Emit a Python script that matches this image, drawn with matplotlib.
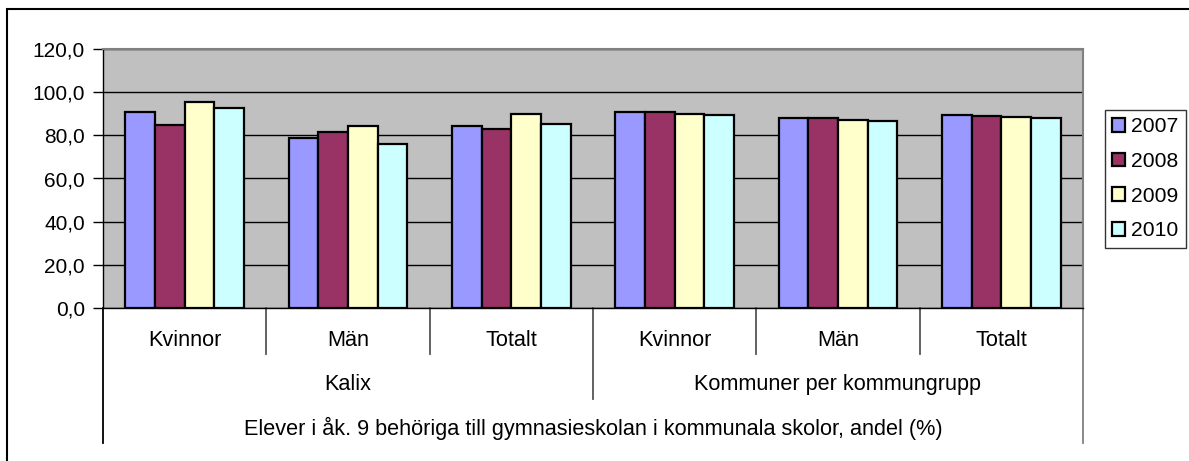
import matplotlib
matplotlib.use("Agg")
import matplotlib.pyplot as plt
from matplotlib.patches import Rectangle, Patch
from matplotlib.ticker import FuncFormatter

plt.rcParams['font.family'] = ['Liberation Sans', 'DejaVu Sans']

subcats = ["Kvinnor", "Män", "Totalt", "Kvinnor", "Män", "Totalt"]
groups = ["Kalix", "Kommuner per kommungrupp"]
title3 = "Elever i åk. 9 behöriga till gymnasieskolan i kommunala skolor, andel (%)"
years = ["2007", "2008", "2009", "2010"]
v2007 = [91.0, 78.8, 84.2, 91.0, 88.1, 89.5]
v2008 = [84.7, 81.5, 83.0, 90.6, 87.8, 89.0]
v2009 = [95.5, 84.4, 90.0, 90.1, 87.0, 88.4]
v2010 = [92.7, 76.0, 85.2, 89.5, 86.6, 87.8]
series = [v2007, v2008, v2009, v2010]
colors = ["#9999FF", "#993366", "#FFFFCC", "#CCFFFF"]

W, H = 1189, 461
fig = plt.figure(figsize=(W/100, H/100), dpi=100)
fig.patch.set_facecolor("white")

ax_l, ax_r, ax_t, ax_b = 103, 1083, 49, 308
ax = fig.add_axes([ax_l/W, (H-ax_b)/H, (ax_r-ax_l)/W, (ax_b-ax_t)/H])
ax.set_facecolor("#C0C0C0")

FS_TICK = 15
FS_CAT = 15.6
FS_LEG = 15.2
bw = 1/5.5
x = list(range(len(subcats)))
for i, (vals, c) in enumerate(zip(series, colors)):
    ax.bar([xi + (i-1.5)*bw for xi in x], vals, width=bw, color=c,
           edgecolor="black", linewidth=1.6, zorder=3, label=years[i])

ax.set_xlim(-0.5, len(subcats)-0.5)
ax.set_ylim(0, 120)
ax.set_yticks(range(0, 121, 20))
ax.yaxis.set_major_formatter(FuncFormatter(lambda v, p: f"{v:.1f}".replace(".", ",")))
ax.tick_params(axis='y', direction='out', length=7, width=1, pad=6, labelsize=FS_TICK, colors='black')
ax.set_xticks([])
ax.grid(axis='y', color='black', linewidth=1, zorder=1)
ax.set_axisbelow(True)
for s in ['top', 'right']:
    ax.spines[s].set_color('#808080')
    ax.spines[s].set_linewidth(1.5)
ax.spines['left'].set_color('black')
ax.spines['bottom'].set_color('black')
ax.spines['left'].set_linewidth(1)
ax.spines['bottom'].set_linewidth(1)

h_ax = ax_b - ax_t
def yf(ypix):
    return (ax_b - ypix) / h_ax

tr = ax.get_xaxis_transform()
lc = "#555555"
for k in range(len(subcats)+1):
    xs = k - 0.5
    if k in (0, len(subcats)):
        yend = 443
        col = "black" if k == 0 else "#808080"
    elif k == 3:
        yend = 399
        col = lc
    else:
        yend = 354
        col = lc
    ax.plot([xs, xs], [0, yf(yend)], transform=tr, color=col, lw=1.3, clip_on=False)

for xi, lab in zip(x, subcats):
    ax.text(xi, yf(340), lab, transform=tr, ha='center', va='center', fontsize=FS_CAT)
ax.text(1, yf(384), groups[0], transform=tr, ha='center', va='center', fontsize=FS_CAT)
ax.text(4, yf(384), groups[1], transform=tr, ha='center', va='center', fontsize=FS_CAT)
ax.text(2.5, yf(428), title3, transform=tr, ha='center', va='center', fontsize=FS_CAT)

fig.patches.append(Rectangle((7/W, -0.1), 1.2, (H-9.5)/H + 0.1, transform=fig.transFigure,
                             fill=False, edgecolor='black', linewidth=1.5))

handles = [Patch(facecolor=c, edgecolor='black', linewidth=1.6) for c in colors]
leg = fig.legend(handles, years, loc='upper left', bbox_to_anchor=(1105/W, 1-110/H),
                 fontsize=FS_LEG, frameon=True, fancybox=False, edgecolor='black',
                 handlelength=0.62, handleheight=0.62, handletextpad=0.25,
                 labelspacing=0.74, borderpad=0.35, borderaxespad=0)
leg.get_frame().set_linewidth(1.0)

fig.savefig("out.png", dpi=100)
